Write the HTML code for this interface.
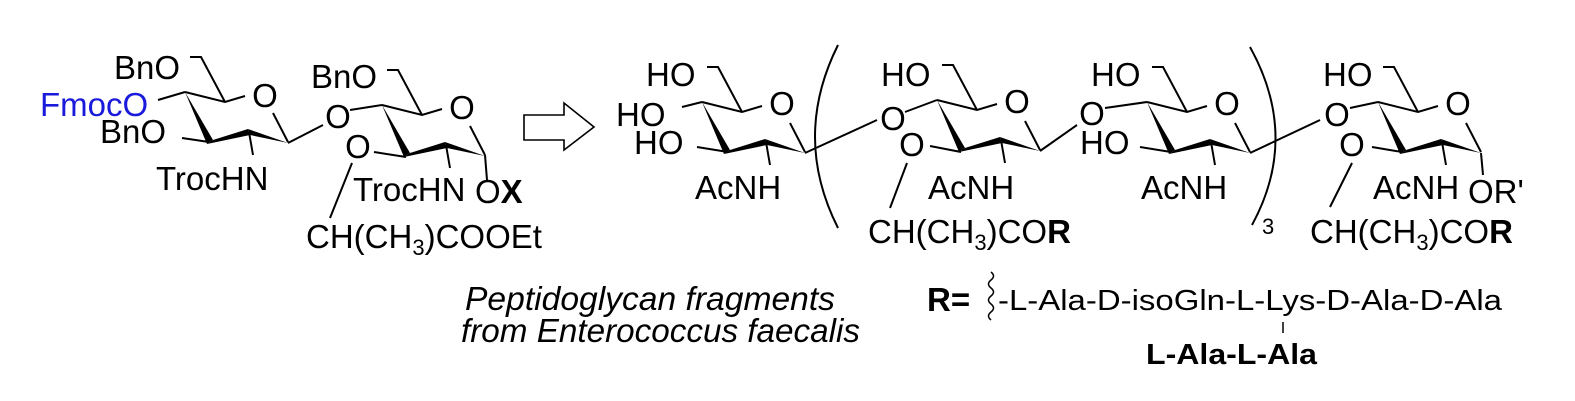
<!DOCTYPE html>
<html><head><meta charset="utf-8"><style>
html,body{margin:0;padding:0;background:#fff;}
svg{display:block;}
text{font-family:"Liberation Sans",Arial,sans-serif;font-size:33px;fill:#000;}
.it{font-style:italic;font-size:33px;}
.b{font-weight:bold;}
</style></head><body>
<svg width="1575" height="401" viewBox="0 0 1575 401" xmlns="http://www.w3.org/2000/svg">
<defs>
<g id="ring" stroke="#000" stroke-width="2" fill="none">
  <path d="M0,0 L40,10 L60,4"/>
  <path d="M88,21 L103,50"/>
  <path d="M40,10 L16,-35 L5,-35"/>
  <polygon points="0,0 22,52 28,48" fill="#000" stroke="none"/>
  <polygon points="22,52 28,48 63,37 65,43" fill="#000" stroke="none"/>
  <polygon points="63,37 65,43 103,51" fill="#000" stroke="none"/>
  <path d="M64,40 L68,63"/>
</g>
</defs>
<g stroke="#000" stroke-width="2" fill="none">
  <path d="M158,100 L185,92"/>
  <path d="M182,138 L209,142"/>
  <path d="M288,143 L323,125"/>
  <path d="M350,110 L382,105"/>
  <path d="M374,152 L406,157"/>
  <path d="M352,163 L330,218"/>
  <path d="M485,155 L487,180"/>
  <path d="M524,115 L564,115 L564,103 L594,127 L564,150 L564,140 L524,140 Z" stroke-width="1.6"/>
  <path d="M682,107 L702,102"/>
  <path d="M697,147 L728,152"/>
  <path d="M805,153 L877,120"/>
  <path d="M905,112 L937,100"/>
  <path d="M930,146 L961,152"/>
  <path d="M907,163 L890,208"/>
  <path d="M1040,151 L1077,125"/>
  <path d="M1105,108 L1147,102"/>
  <path d="M1140,147 L1171,152"/>
  <path d="M1250,153 L1320,120"/>
  <path d="M1350,108 L1378,102"/>
  <path d="M1372,147 L1402,152"/>
  <path d="M1352,163 L1330,207"/>
  <path d="M1481,153 L1483,175"/>
  <path d="M838,45 Q792,137 838,228"/>
  <path d="M1250,47 Q1300,137 1252,225"/>
  <path d="M991,272 q5,4 0,8 q-5,4 0,8 q5,4 0,8 q-5,4 0,8 q5,4 0,8 q-5,4 0,8" stroke-width="1.5"/>
  <path d="M1283,322 L1283,333" stroke-width="1.5"/>
</g>
<use href="#ring" x="185" y="92"/>
<use href="#ring" x="382" y="105"/>
<use href="#ring" x="702" y="102"/>
<use href="#ring" x="937" y="100"/>
<use href="#ring" x="1147" y="102"/>
<use href="#ring" x="1378" y="102"/>

<text x="114" y="79">BnO</text>
<text x="40" y="116" style="fill:#1a1adc">FmocO</text>
<text x="100" y="143">BnO</text>
<text x="156" y="190">TrocHN</text>
<text x="265" y="107" text-anchor="middle">O</text>
<text x="338" y="128" text-anchor="middle">O</text>
<text x="311" y="88">BnO</text>
<text x="462" y="119" text-anchor="middle">O</text>
<text x="358" y="158" text-anchor="middle">O</text>
<text x="353" y="201">TrocHN</text>
<text x="475" y="203">O<tspan class="b">X</tspan></text>
<text x="306" y="248">CH(CH<tspan font-size="22" dy="7">3</tspan><tspan dy="-7">)COOEt</tspan></text>

<text x="646" y="86">HO</text>
<text x="616" y="126">HO</text>
<text x="634" y="154">HO</text>
<text x="782" y="115" text-anchor="middle">O</text>
<text x="695" y="199">AcNH</text>
<text x="893" y="130" text-anchor="middle">O</text>
<text x="881" y="86">HO</text>
<text x="1017" y="113" text-anchor="middle">O</text>
<text x="912" y="156" text-anchor="middle">O</text>
<text x="928" y="199">AcNH</text>
<text x="868" y="243">CH(CH<tspan font-size="22" dy="7">3</tspan><tspan dy="-7">)CO</tspan><tspan class="b">R</tspan></text>
<text x="1092" y="125" text-anchor="middle">O</text>
<text x="1091" y="86">HO</text>
<text x="1080" y="154">HO</text>
<text x="1227" y="115" text-anchor="middle">O</text>
<text x="1141" y="199">AcNH</text>
<text x="1262" y="234" style="font-size:22px">3</text>
<text x="1337" y="126" text-anchor="middle">O</text>
<text x="1323" y="86">HO</text>
<text x="1458" y="115" text-anchor="middle">O</text>
<text x="1352" y="156" text-anchor="middle">O</text>
<text x="1373" y="199">AcNH</text>
<text x="1468" y="203">OR'</text>
<text x="1310" y="243">CH(CH<tspan font-size="22" dy="7">3</tspan><tspan dy="-7">)CO</tspan><tspan class="b">R</tspan></text>

<text class="it" x="465" y="310" textLength="370" lengthAdjust="spacingAndGlyphs">Peptidoglycan fragments</text>
<text class="it" x="461" y="342" textLength="399" lengthAdjust="spacingAndGlyphs">from Enterococcus faecalis</text>
<text class="b" x="927" y="311">R=</text>
<text x="998" y="310" style="font-size:29px" textLength="504" lengthAdjust="spacingAndGlyphs">-L-Ala-D-isoGln-L-Lys-D-Ala-D-Ala</text>
<text class="b" x="1146" y="364" style="font-size:29px" textLength="171" lengthAdjust="spacingAndGlyphs">L-Ala-L-Ala</text>
</svg>
</body></html>
